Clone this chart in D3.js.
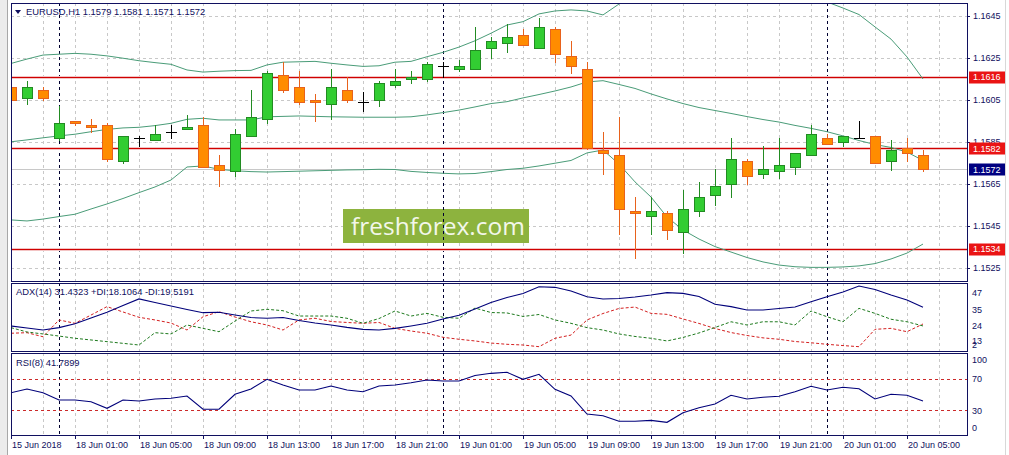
<!DOCTYPE html>
<html><head><meta charset="utf-8">
<script src="https://cdn.jsdelivr.net/npm/d3@7"></script>
<style>
html,body{margin:0;padding:0;background:#fff;overflow:hidden}
svg{display:block}
text{font-family:"Liberation Sans",Arial,sans-serif}
</style></head><body>
<svg id="c" width="1009" height="455"></svg>
<script>
// ---------- DATA ----------
const symbolTitle = "EURUSD,H1";
const lastOHLC = ["1.1579","1.1581","1.1571","1.1572"];
const openP = [1.1611,1.1606,1.1610,1.1587,1.1595,1.1593,1.1593,1.1576,1.1587,1.1586,
 1.1590,1.1591,1.1593,1.1574,1.1571,1.1588,1.1596,1.1617,1.1611,1.1605,
 1.1603,1.1610,1.1604,1.1605,1.1612,1.1615,1.1615,1.1621,1.1620,1.1620,
 1.1630,1.1632,1.1636,1.1630,1.1639,1.1626,1.1620,1.1581,1.1579,1.1552,
 1.1550,1.1551,1.1542,1.1552,1.1560,1.1565,1.1576,1.1570,1.1571,1.1573,
 1.1579,1.1587,1.1585,1.1587,1.1588,1.1576,1.1582,1.1579];
const highP = [1.1614,1.1614,1.1611,1.1602,1.1595,1.1596,1.1594,1.1588,1.1588,1.1593,
 1.1593,1.1598,1.1597,1.1579,1.1591,1.1610,1.1619,1.1623,1.1619,1.1608,
 1.1620,1.1616,1.1609,1.1614,1.1620,1.1619,1.1623,1.1623,1.1624,1.1640,
 1.1635,1.1641,1.1639,1.1644,1.1640,1.1633,1.1623,1.1590,1.1597,1.1559,
 1.1559,1.1552,1.1562,1.1566,1.1572,1.1587,1.1577,1.1583,1.1587,1.1580,
 1.1593,1.1589,1.1588,1.1595,1.1588,1.1586,1.1587,1.1581];
const lowP = [1.1605,1.1603,1.1605,1.1586,1.1593,1.1590,1.1576,1.1575,1.1583,1.1586,
 1.1587,1.1591,1.1573,1.1564,1.1569,1.1588,1.1594,1.1609,1.1603,1.1595,
 1.1596,1.1604,1.1600,1.1602,1.1611,1.1613,1.1614,1.1616,1.1619,1.1620,
 1.1625,1.1628,1.1631,1.1630,1.1623,1.1618,1.15815,1.1570,1.1541,1.1530,
 1.1541,1.1539,1.1532,1.1550,1.1555,1.1559,1.1565,1.1568,1.1568,1.1570,
 1.1579,1.1584,1.1583,1.1587,1.1575,1.15715,1.1576,1.1571];
const closeP = [1.1605,1.1611,1.1606,1.1594,1.1594,1.1592,1.1577,1.1588,1.1587,1.1589,
 1.1590,1.1592,1.1573,1.15715,1.1589,1.1597,1.1618,1.1610,1.1604,1.1604,
 1.1611,1.1605,1.1604,1.1613,1.1614,1.1616,1.1622,1.1621,1.1621,1.1629,
 1.1633,1.1635,1.1631,1.1640,1.1627,1.1621,1.1582,1.1580,1.1553,1.1551,
 1.1552,1.1543,1.1553,1.1559,1.1564,1.1577,1.1569,1.1572,1.1574,1.1580,
 1.1589,1.1584,1.1588,1.1587,1.1575,1.1581,1.1580,1.1572];
const bbUpper = [1.16224,1.16245,1.16264,1.16268,1.16272,1.16268,1.16260,1.16249,1.16237,1.16228,
 1.16220,1.16193,1.16183,1.16187,1.16190,1.16191,1.16217,1.16230,1.16232,1.16234,
 1.16225,1.16217,1.16210,1.16213,1.16230,1.16234,1.16256,1.16277,1.16302,1.16332,
 1.16368,1.16407,1.16423,1.16460,1.16474,1.16479,1.16474,1.16455,1.16507,1.16555,
 1.16583,1.16617,1.16636,1.16645,1.16650,1.16645,1.16641,1.16631,1.16612,1.16583,
 1.16555,1.16517,1.16488,1.16457,1.16398,1.16340,1.16255,1.16150];
const bbMiddle = [1.15851,1.15860,1.15870,1.15879,1.15887,1.15899,1.15910,1.15917,1.15920,1.15928,
 1.15939,1.15958,1.15963,1.15955,1.15955,1.15955,1.15970,1.15972,1.15974,1.15972,
 1.15970,1.15969,1.15968,1.15968,1.15968,1.15970,1.15979,1.15990,1.16002,1.16017,
 1.16033,1.16042,1.16060,1.16076,1.16093,1.16112,1.16136,1.16142,1.16124,1.16105,
 1.16079,1.16055,1.16033,1.16014,1.16000,1.15986,1.15971,1.15957,1.15945,1.15929,
 1.15915,1.15899,1.15879,1.15857,1.15838,1.15824,1.15802,1.15762];
const bbLower = [1.15479,1.15474,1.15483,1.15495,1.15506,1.15531,1.15555,1.15581,1.15609,1.15636,
 1.15669,1.15731,1.15736,1.15720,1.15713,1.15709,1.15707,1.15709,1.15711,1.15713,
 1.15715,1.15717,1.15718,1.15720,1.15719,1.15710,1.15705,1.15701,1.15698,1.15700,
 1.15709,1.15719,1.15725,1.15736,1.15749,1.15762,1.15798,1.15812,1.15745,1.15660,
 1.15588,1.15493,1.15431,1.15388,1.15352,1.15326,1.15300,1.15279,1.15264,1.15256,
 1.15253,1.15253,1.15255,1.15260,1.15271,1.15293,1.15321,1.15364];
const adxVals = [18.1,16.6,15.2,16.9,19.7,23.8,27.9,32.7,37.4,34.9,
 32.4,29.9,27.6,27.9,25.9,24.1,23.6,24.1,22.0,20.2,
 18.8,17.1,15.7,15.2,16.4,18.1,20.0,23.1,25.7,30.2,
 34.9,38.4,41.3,46.1,45.7,43.1,39.0,37.4,37.7,38.8,
 40.2,41.9,41.4,39.1,33.6,31.9,29.5,29.5,30.6,31.6,
 35.4,39.0,42.4,46.6,44.1,40.2,36.6,31.43];
const plusDI = [16.9,13.8,12.4,10.9,9.3,8.1,6.9,5.7,4.5,13.3,
 12.4,18.8,16.4,14.0,21.6,28.8,30.0,29.0,25.2,25.2,
 25.2,23.6,20.0,23.4,28.8,25.2,27.1,24.3,23.6,30.9,
 27.7,27.4,24.9,26.3,22.4,20.0,16.9,15.2,12.4,10.6,
 9.3,7.4,9.9,13.1,17.0,21.1,18.8,21.1,21.1,18.8,
 28.8,24.7,21.1,30.7,27.1,22.9,21.1,18.11];
const minusDI = [12.9,13.3,10.4,22.4,20.0,25.9,31.9,28.1,24.3,22.4,
 20.2,15.2,24.7,28.3,24.5,21.1,18.8,15.2,22.4,23.6,
 21.3,20.6,20.0,20.6,16.4,14.5,12.9,10.0,8.6,7.4,
 5.9,5.0,4.5,3.3,9.3,11.6,22.4,27.0,30.6,31.6,
 27.1,26.4,23.1,19.9,16.3,13.4,11.3,9.6,8.6,7.0,
 6.1,5.0,4.1,3.3,15.7,16.4,14.0,19.52];
const rsiVals = [52.3,57.0,52.3,43.0,43.0,40.9,32.5,43.0,41.8,44.3,
 45.2,48.1,31.3,31.3,50.3,57.0,69.2,62.0,55.7,55.7,
 60.8,55.7,53.5,60.8,62.0,64.9,68.4,67.1,67.1,74.1,
 76.8,78.1,69.2,75.6,56.6,48.1,25.3,23.2,16.1,16.1,
 17.3,14.8,27.0,33.3,38.0,49.0,44.3,46.5,47.7,53.5,
 60.4,55.7,59.1,57.3,44.3,50.3,49.0,41.79];
const adxHeader = "ADX(14) 31.4323 +DI:18.1064 -DI:19.5191";
const rsiHeader = "RSI(8) 41.7899";
const priceTicks = [1.1645,1.1625,1.1605,1.1585,1.1565,1.1545,1.1525];
const redLevels = [1.1616,1.1582,1.1534];
const currentPrice = 1.1572;
const adxTicks = [47,35,24,13,2];
const rsiTicks = [100,70,30,0];
const rsiLevels = [70,30];
const timeLabels = ["15 Jun 2018","18 Jun 01:00","18 Jun 05:00","18 Jun 09:00","18 Jun 13:00","18 Jun 17:00","18 Jun 21:00","19 Jun 01:00","19 Jun 05:00","19 Jun 09:00","19 Jun 13:00","19 Jun 17:00","19 Jun 21:00","20 Jun 01:00","20 Jun 05:00"];
const timeLabelBars = [0,4,8,12,16,20,24,28,32,36,40,44,48,52,56];
const daySeparatorBars = [3,27,51];
const watermark = "freshforex.com";

// ---------- LAYOUT ----------
const L = 11, R = 967;
const mainTop = 3, mainBot = 281, adxTop = 283, adxBot = 351, rsiTop = 353, rsiBot = 435;
const fg = "#101060";
const svg = d3.select("#c");
const N = openP.length;
const x = d3.scaleLinear().domain([0, N - 1]).range([11, 923]);
const y = d3.scaleLinear().domain([1.1645, 1.1525]).range([16, 268]);
const yA = d3.scaleLinear().domain([0.22, 48.79]).range([adxBot, adxTop]);
const yR = d3.scaleLinear().domain([0, 100]).range([434, 355]);
const px = v => Math.round(v) + 0.5;

svg.append("rect").attr("width", 1009).attr("height", 455).attr("fill", "#fff");
svg.append("rect").attr("x", 0).attr("y", 0).attr("width", 7).attr("height", 455).attr("fill", "#ececec");
svg.append("line").attr("x1", 7.5).attr("x2", 7.5).attr("y1", 0).attr("y2", 455).attr("stroke", "#a8a8a8");
svg.append("line").attr("x1", 1005.5).attr("x2", 1005.5).attr("y1", 0).attr("y2", 455).attr("stroke", "#d8d8d8");

const panels = [[mainTop, mainBot], [adxTop, adxBot], [rsiTop, rsiBot]];
const defs = svg.append("defs");
panels.forEach((p, i) => {
  defs.append("clipPath").attr("id", "clip" + i).append("rect")
    .attr("x", L + 1).attr("y", p[0] + 1).attr("width", R - L - 1).attr("height", p[1] - p[0] - 1);
});

// grid
const gridBars = d3.range(2, 59, 2);
const gridG = svg.append("g").attr("stroke", "#c8c8c8").attr("stroke-dasharray", "3,3").attr("shape-rendering", "crispEdges");
panels.forEach(p => {
  gridBars.forEach(b => {
    gridG.append("line").attr("x1", px(x(b))).attr("x2", px(x(b))).attr("y1", p[0]).attr("y2", p[1]);
  });
});
priceTicks.forEach(t => {
  gridG.append("line").attr("x1", L).attr("x2", R).attr("y1", px(y(t))).attr("y2", px(y(t)));
});

// watermark
const wm = svg.append("g");
wm.append("rect").attr("x", 343).attr("y", 209).attr("width", 186).attr("height", 34).attr("fill", "#8db33e");
wm.append("text").attr("x", 351).attr("y", 235).attr("fill", "#f3f7ea")
  .style("font-family", "'Open Sans',sans-serif").style("font-size", "24.5px").text(watermark);

// day separators
const sepG = svg.append("g").attr("stroke", "#000030").attr("stroke-dasharray", "3,3").attr("shape-rendering", "crispEdges");
panels.forEach(p => {
  daySeparatorBars.forEach(b => {
    sepG.append("line").attr("x1", px(x(b))).attr("x2", px(x(b))).attr("y1", p[0]).attr("y2", p[1]);
  });
});

// level lines
svg.append("line").attr("x1", L).attr("x2", R).attr("y1", px(y(currentPrice))).attr("y2", px(y(currentPrice)))
  .attr("stroke", "#c8c8c8").attr("shape-rendering", "crispEdges");
redLevels.forEach(l => {
  svg.append("line").attr("x1", L).attr("x2", R).attr("y1", Math.round(y(l)) - 0.5).attr("y2", Math.round(y(l)) - 0.5)
    .attr("stroke", "#f3c4c4").attr("shape-rendering", "crispEdges");
  svg.append("line").attr("x1", L).attr("x2", R).attr("y1", Math.round(y(l)) + 1.5).attr("y2", Math.round(y(l)) + 1.5)
    .attr("stroke", "#f3c4c4").attr("shape-rendering", "crispEdges");
  svg.append("line").attr("x1", L).attr("x2", R).attr("y1", px(y(l))).attr("y2", px(y(l)))
    .attr("stroke", "#d00000").attr("shape-rendering", "crispEdges");
});

// bollinger bands
const mainG = svg.append("g").attr("clip-path", "url(#clip0)");
[bbUpper, bbMiddle, bbLower].forEach(arr => {
  mainG.append("path").attr("d", d3.line().x((d, i) => x(i)).y(d => y(d))(arr))
    .attr("fill", "none").attr("stroke", "#4a9c78").attr("stroke-width", 1);
});

// candles
const bullFill = "#32cd32", bullLine = "#228b22", bearFill = "#ff8c00", bearLine = "#e8621c";
d3.range(N).forEach(i => {
  const cx = Math.round(x(i));
  const o = openP[i], c = closeP[i], h = highP[i], lo = lowP[i];
  const col = c > o ? bullLine : (c < o ? bearLine : "#000");
  const g = mainG.append("g");
  g.append("line").attr("x1", cx + 0.5).attr("x2", cx + 0.5)
    .attr("y1", Math.round(y(h))).attr("y2", Math.round(y(lo)) + 1)
    .attr("stroke", col).attr("shape-rendering", "crispEdges");
  if (c === o) {
    g.append("line").attr("x1", cx - 5).attr("x2", cx + 6)
      .attr("y1", px(y(o))).attr("y2", px(y(o))).attr("stroke", "#000").attr("shape-rendering", "crispEdges");
  } else {
    const top = Math.round(y(Math.max(o, c))), bot = Math.round(y(Math.min(o, c)));
    g.append("rect").attr("x", cx - 4.5).attr("y", top + 0.5).attr("width", 10).attr("height", Math.max(bot - top, 1))
      .attr("fill", c > o ? bullFill : bearFill).attr("stroke", col).attr("shape-rendering", "crispEdges");
  }
});

// ADX panel lines
const adxG = svg.append("g").attr("clip-path", "url(#clip1)");
const la = d3.line().x((d, i) => x(i)).y(d => yA(d));
adxG.append("path").attr("d", la(minusDI)).attr("fill", "none").attr("stroke", "#d42020").attr("stroke-dasharray", "3,2");
adxG.append("path").attr("d", la(plusDI)).attr("fill", "none").attr("stroke", "#1e7a1e").attr("stroke-dasharray", "3,2");
adxG.append("path").attr("d", la(adxVals)).attr("fill", "none").attr("stroke", "#00007a").attr("stroke-width", 1.1);

// RSI panel
const rsiG = svg.append("g").attr("clip-path", "url(#clip2)");
rsiLevels.forEach(l => {
  rsiG.append("line").attr("x1", L).attr("x2", R).attr("y1", px(yR(l))).attr("y2", px(yR(l)))
    .attr("stroke", "#cc2a2a").attr("stroke-dasharray", "3,3").attr("shape-rendering", "crispEdges");
});
rsiG.append("path").attr("d", d3.line().x((d, i) => x(i)).y(d => yR(d))(rsiVals))
  .attr("fill", "none").attr("stroke", "#00007a").attr("stroke-width", 1.1);

// panel borders
const bG = svg.append("g").attr("fill", "none").attr("stroke", fg).attr("shape-rendering", "crispEdges");
panels.forEach(p => {
  bG.append("rect").attr("x", L + 0.5).attr("y", p[0] + 0.5).attr("width", R - L).attr("height", p[1] - p[0]);
});

// axis text
const fs = "9px";
const axG = svg.append("g").attr("fill", fg).style("font-size", fs);
priceTicks.forEach(t => {
  axG.append("text").attr("x", 973).attr("y", y(t) + 3.3).text(t.toFixed(4));
  svg.append("line").attr("x1", R).attr("x2", R + 3).attr("y1", px(y(t))).attr("y2", px(y(t))).attr("stroke", fg).attr("shape-rendering", "crispEdges");
});
function boxLabel(v, fill) {
  const cy = y(v);
  svg.append("rect").attr("x", 969).attr("y", Math.round(cy) - 5.5).attr("width", 36).attr("height", 12).attr("fill", fill);
  svg.append("text").attr("x", 973).attr("y", cy + 3.3).attr("fill", "#fff").style("font-size", fs).text(v.toFixed(4));
}
redLevels.forEach(l => boxLabel(l, "#ea1414"));
boxLabel(currentPrice, "#000080");

adxTicks.forEach(t => {
  const cy = Math.max(289, Math.min(345, yA(t) + 7.5));
  axG.append("text").attr("x", 972).attr("y", cy + 3.3).text(t);
});
rsiTicks.forEach(t => {
  const cy = Math.max(360, Math.min(428, yR(t)));
  axG.append("text").attr("x", 972).attr("y", cy + 3.3).text(t);
});

// time axis
timeLabelBars.forEach((b, i) => {
  const tx = Math.round(x(b));
  svg.append("line").attr("x1", tx + 0.5).attr("x2", tx + 0.5).attr("y1", rsiBot).attr("y2", rsiBot + 4).attr("stroke", fg).attr("shape-rendering", "crispEdges");
  axG.append("text").attr("x", tx + 1).attr("y", 448).text(timeLabels[i]);
});

// headers
svg.append("path").attr("d", "M15,10 L21,10 L18,14 Z").attr("fill", fg);
svg.append("text").attr("x", 26).attr("y", 15).attr("fill", fg).style("font-size", "9.4px")
  .text(symbolTitle + "  " + lastOHLC.join(" "));
svg.append("text").attr("x", 16).attr("y", 295).attr("fill", fg).style("font-size", "9.4px").text(adxHeader);
svg.append("text").attr("x", 16).attr("y", 366).attr("fill", fg).style("font-size", "9.4px").text(rsiHeader);
</script>
</body></html>
